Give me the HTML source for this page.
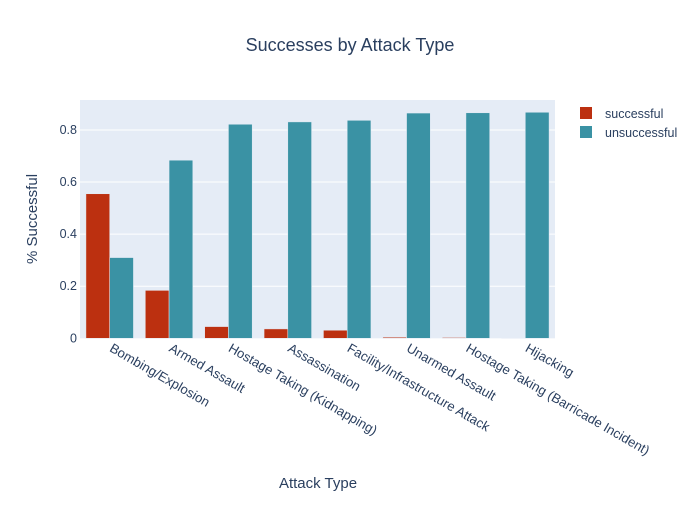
<!DOCTYPE html>
<html><head><meta charset="utf-8"><style>
body{margin:0;background:#fff;font-family:"Liberation Sans",sans-serif}
svg text{font-family:"Liberation Sans",sans-serif;fill:#2a3f5f}
</style></head><body>
<svg id="c" width="700" height="500">
<rect x="0" y="0" width="700" height="500" fill="#fff"/>
<rect x="80" y="100" width="475" height="238.3" fill="#e5ecf6"/>
<g id="grid"></g><g id="bars"></g><g id="ticks"></g>
<text x="350" y="51" text-anchor="middle" font-size="18">Successes by Attack Type</text>
<text x="37" y="219" text-anchor="middle" font-size="15" transform="rotate(-90,37,219)">% Successful</text>
<text x="318" y="488" text-anchor="middle" font-size="15">Attack Type</text>
<g><rect x="580" y="107" width="12" height="12" fill="#bc3010"/><text x="605" y="118" font-size="12.5">successful</text></g>
<g><rect x="580" y="126" width="12" height="12" fill="#3a92a4"/><text x="605" y="137" font-size="12.5">unsuccessful</text></g>
</svg>
<script>
const categories=["Bombing/Explosion","Armed Assault","Hostage Taking (Kidnapping)","Assassination","Facility/Infrastructure Attack","Unarmed Assault","Hostage Taking (Barricade Incident)","Hijacking"];
const successful=[0.555,0.184,0.045,0.036,0.031,0.004,0.003,0.001];
const unsuccessful=[0.31,0.684,0.822,0.831,0.837,0.865,0.866,0.868];
const yTicks=[0,0.2,0.4,0.6,0.8];
const yTickLabels=["0","0.2","0.4","0.6","0.8"];
const NS="http://www.w3.org/2000/svg";
const L=80,R=555,Y0=338.3,PX=260.4;
const y=v=>Y0-v*PX;
const cw=(R-L)/categories.length;
const x=i=>L+i*cw;
function mk(t,a,p){const e=document.createElementNS(NS,t);for(const k in a)e.setAttribute(k,a[k]);p.appendChild(e);return e;}
const grid=document.getElementById('grid'),bars=document.getElementById('bars'),ticks=document.getElementById('ticks');
yTicks.forEach((v,i)=>{
 if(v>0){const g=mk('line',{x1:L,x2:R,y1:y(v),y2:y(v),stroke:'#fff','stroke-width':1},grid);
 
 }
 const t=mk('text',{x:L-3,y:y(v)+4,'text-anchor':'end','font-size':12.5},ticks);t.textContent=yTickLabels[i];
 
 
});
const bw=cw*0.8/2;
categories.forEach((c,i)=>{
 const gx=x(i)+cw*0.1;
 const r1=mk('rect',{x:gx,y:y(successful[i]),width:bw,height:successful[i]*PX,fill:'#bc3010',stroke:'#e5ecf6','stroke-width':0.5},bars);
 
 
 const r2=mk('rect',{x:gx+bw,y:y(unsuccessful[i]),width:bw,height:unsuccessful[i]*PX,fill:'#3a92a4',stroke:'#e5ecf6','stroke-width':0.5},bars);
 
 
 const cx=x(i)+cw/2+1,ty=Y0+13;
 const t=mk('text',{x:cx,y:ty,'font-size':13.2,transform:`rotate(30,${cx},${ty-4})`},ticks);t.textContent=c;
 
 
});
</script>
</body></html>
